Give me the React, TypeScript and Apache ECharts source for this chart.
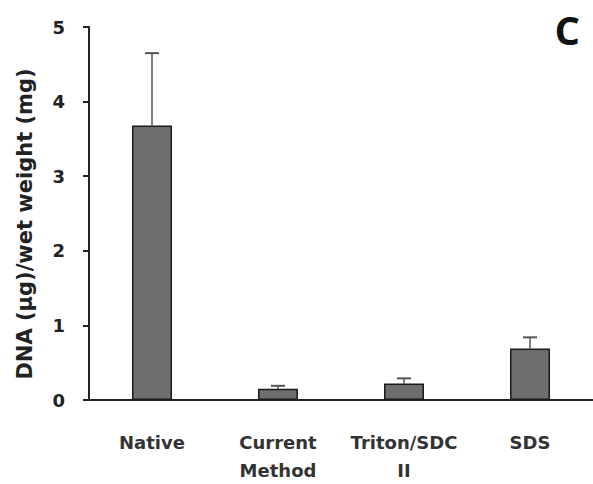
import React, { useEffect, useRef } from "react";
import * as echarts from "echarts";

const categories = ["Native", "Current\nMethod", "Triton/SDC\nII", "SDS"];
const means = [3.68, 0.15, 0.22, 0.69];
const errorTops = [4.65, 0.19, 0.29, 0.84];
const yTicks = [0, 1, 2, 3, 4, 5];
const yAxisTitle = "DNA (µg)/wet weight (mg)";

export default function App() {
  const ref = useRef<HTMLDivElement>(null);
  useEffect(() => {
    if (!ref.current) return;
    const chart = echarts.init(ref.current, null, { renderer: "svg" });
    chart.setOption({
      animation: false,
      backgroundColor: "#ffffff",
      grid: { left: 89, right: 0, top: 27, bottom: 81 },
      title: {
        text: "C",
        right: 8,
        top: 4,
        textStyle: { fontFamily: "Open Sans", fontWeight: "bold", fontSize: 40, color: "#111" },
      },
      graphic: [
        {
          type: "text",
          x: 25,
          y: 224,
          rotation: Math.PI / 2,
          style: {
            text: yAxisTitle,
            fill: "#222",
            font: "bold 21px 'DejaVu Sans'",
            textAlign: "center",
            textVerticalAlign: "middle",
          },
        },
      ],
      xAxis: {
        type: "category",
        data: categories,
        axisLine: { lineStyle: { color: "#222", width: 2 } },
        axisTick: { show: false },
        axisLabel: {
          interval: 0,
          color: "#333",
          fontFamily: "DejaVu Sans",
          fontWeight: "bold",
          fontSize: 18,
          lineHeight: 28,
          margin: 28,
        },
      },
      yAxis: {
        type: "value",
        min: yTicks[0],
        max: yTicks[yTicks.length - 1],
        interval: 1,
        axisLine: { show: true, lineStyle: { color: "#222", width: 2 } },
        axisTick: { show: true, inside: false, length: 6, lineStyle: { color: "#222", width: 2 } },
        splitLine: { show: false },
        axisLabel: {
          color: "#222",
          fontFamily: "DejaVu Sans",
          fontWeight: "bold",
          fontSize: 18,
          margin: 24,
        },
      },
      series: [
        {
          type: "bar",
          data: means,
          barWidth: 40,
          itemStyle: { color: "#6e6e6e", borderColor: "#1a1a1a", borderWidth: 1.5 },
          z: 2,
        },
        {
          type: "custom",
          z: 1,
          data: means.map((m, i) => [i, m, errorTops[i]]),
          renderItem: (params: any, api: any) => {
            const x = api.value(0);
            const base = api.coord([x, api.value(1)]);
            const top = api.coord([x, api.value(2)]);
            const half = 7;
            return {
              type: "group",
              children: [
                {
                  type: "line",
                  shape: { x1: base[0], y1: base[1], x2: top[0], y2: top[1] },
                  style: { stroke: "#808080", lineWidth: 2 },
                },
                {
                  type: "line",
                  shape: { x1: top[0] - half, y1: top[1], x2: top[0] + half, y2: top[1] },
                  style: { stroke: "#555", lineWidth: 2 },
                },
              ],
            };
          },
        },
      ],
    });
    return () => chart.dispose();
  }, []);
  return (
    <div
      ref={ref}
      style={{ position: "absolute", left: 0, top: 0, width: 593, height: 484 }}
    />
  );
}
